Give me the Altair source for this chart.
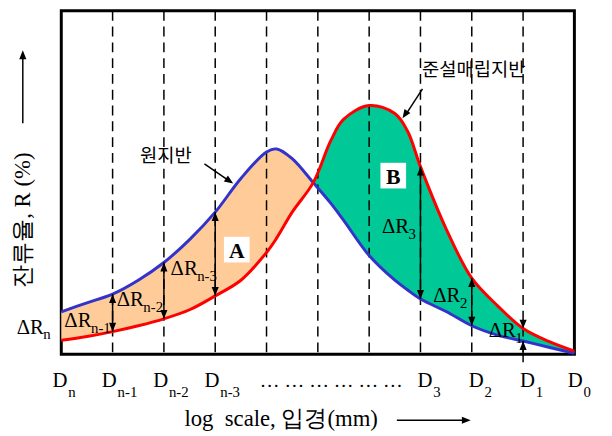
import altair as alt
import pandas as pd

# ---- data (x = position index along log-scale size axis: 0 = D_n ... 10 = D_0; y = retained R) ----
x_pos = [0, 0.5, 1, 1.5, 2, 2.5, 3, 3.5, 4, 4.2, 4.5, 4.91, 5.25, 5.5, 6, 6.5, 6.75, 7, 7.5, 8, 8.5, 9, 9.5, 10]
r_original = [12.2, 14.8, 17.3, 21.3, 26.4, 33.0, 40.9, 50.6, 58.2, 59.1, 56.3, 49.4, 43.5, 38.6,
              28.4, 21.3, 18.5, 15.9, 12.3, 8.2, 5.5, 3.8, 2.0, 0.3]
r_dredged = [4.0, 5.1, 6.5, 8.2, 10.2, 12.8, 16.8, 21.3, 29.3, 33.5, 40.9, 49.4, 61.4, 67.6,
             71.6, 69.3, 64.2, 54.0, 36.1, 21.9, 14.0, 7.4, 3.7, 0.9]
cross_x = 4.91

grid_x = [1, 2, 3, 4, 5, 6, 7, 8, 9]
arrow_x = [1, 2, 3, 7, 8]

d_sub = ["n", "n-1", "n-2", "n-3", "3", "2", "1", "0"]
d_x = [-0.17, 0.79, 1.79, 2.79, 6.94, 7.94, 8.94, 9.87]

dr_sub = ["n", "n-1", "n-2", "n-3", "3", "2", "1"]
dr_x = [-0.87, 0.06, 1.08, 2.13, 6.25, 7.25, 8.33]
dr_y = [7.67, 9.66, 15.63, 24.43, 36.65, 16.76, 6.53]

Y_TOP = 98.86
SERIF = "'Liberation Serif', 'Times New Roman', Times, 'DejaVu Serif', serif"
KR = "Noto Sans CJK KR"
HEAD = "M0,0L-0.4,1L0.4,1Z"
INTERP = "catmull-rom"

xs = alt.Scale(domain=[0, 10], nice=False, zero=False)
ys = alt.Scale(domain=[0, Y_TOP], nice=False, zero=False)

def X(f):
    return alt.X(f, type="quantitative", scale=xs, axis=None)

def Y(f):
    return alt.Y(f, type="quantitative", scale=ys, axis=None)

curves = pd.DataFrame({"x": x_pos, "orig": r_original, "dred": r_dredged})
orange = curves[curves.x <= cross_x]
green = curves[curves.x >= cross_x]

area_a = alt.Chart(orange).mark_area(color="#FFCC99", opacity=1, interpolate=INTERP).encode(
    x=X("x"), y=Y("orig"), y2="dred")
area_b = alt.Chart(green).mark_area(color="#00C896", opacity=1, interpolate=INTERP).encode(
    x=X("x"), y=Y("dred"), y2="orig")

grid = alt.Chart(pd.DataFrame({"x": grid_x, "top": [Y_TOP] * len(grid_x), "bot": [0] * len(grid_x)})).mark_rule(
    color="black", strokeWidth=1.5, strokeDash=[10, 6]).encode(x=X("x"), y=Y("top"), y2="bot")

line_o = alt.Chart(curves).mark_line(color="#3333CC", strokeWidth=3, interpolate=INTERP).encode(
    x=X("x"), y=Y("orig"))
line_d = alt.Chart(curves).mark_line(color="#FF0000", strokeWidth=3, interpolate=INTERP).encode(
    x=X("x"), y=Y("dred"))

# double arrows between the two curves
rows = []
heads = []
for ax in arrow_x:
    k = x_pos.index(ax)
    a, b = r_original[k], r_dredged[k]
    top, bot = max(a, b), min(a, b)
    rows.append({"x": ax, "x2": ax, "y": top, "y2": bot})
    heads.append({"x": ax, "y": top, "ang": 0})
    heads.append({"x": ax, "y": bot, "ang": 180})
k9 = x_pos.index(9)
rows.append({"x": 9, "x2": 9, "y": r_original[k9], "y2": -2.3})
heads.append({"x": 9, "y": r_dredged[k9], "ang": 180})
heads.append({"x": 9, "y": r_original[k9], "ang": 0})
# axis-title arrows and callout arrows
rows.append({"x": -0.75, "x2": -0.75, "y": 66.5, "y2": 86.0})
heads.append({"x": -0.75, "y": 87.5, "ang": 0})
rows.append({"x": 6.54, "x2": 7.9, "y": -19.0, "y2": -19.0})
heads.append({"x": 7.98, "y": -19.0, "ang": 90})
rows.append({"x": 2.79, "x2": 3.3, "y": 54.83, "y2": 49.6})
heads.append({"x": 3.35, "y": 49.15, "ang": 124.6})
rows.append({"x": 7.04, "x2": 6.7, "y": 76.42, "y2": 68.7})
heads.append({"x": 6.65, "y": 67.9, "ang": 213.7})

arrow_lines = alt.Chart(pd.DataFrame(rows)).mark_rule(color="black", strokeWidth=1.5).encode(
    x=X("x"), x2="x2", y=Y("y"), y2="y2")
arrow_heads = alt.Chart(pd.DataFrame(heads)).mark_point(
    shape=HEAD, filled=True, size=324, color="black", opacity=1).encode(
    x=X("x"), y=Y("y"), angle=alt.Angle("ang:Q", scale=None))

# region boxes
boxes = pd.DataFrame({"x": [3.42, 6.47], "y": [30.11, 51.42], "t": ["A", "B"]})
box_bg = alt.Chart(boxes).mark_square(size=676, color="white", opacity=1).encode(x=X("x"), y=Y("y"))
box_tx = alt.Chart(boxes).mark_text(font=SERIF, fontSize=22, fontWeight="bold", color="black",
                                    baseline="middle", align="center", dy=1).encode(
    x=X("x"), y=Y("y"), text="t:N")

# D labels
dlab = pd.DataFrame({"x": d_x, "y": [-7.8] * len(d_x), "m": ["D"] * len(d_x), "s": d_sub})
d_main = alt.Chart(dlab).mark_text(font=SERIF, fontSize=21, align="left", baseline="middle",
                                   color="black").encode(x=X("x"), y=Y("y"), text="m:N")
d_subt = alt.Chart(dlab).mark_text(font=SERIF, fontSize=15, align="left", baseline="middle",
                                   dx=16, dy=11, color="black").encode(x=X("x"), y=Y("y"), text="s:N")

# Delta R labels
rlab = pd.DataFrame({"x": dr_x, "y": dr_y, "m": ["ΔR"] * len(dr_x), "s": dr_sub})
r_main = alt.Chart(rlab).mark_text(font=SERIF, fontSize=21, align="left", baseline="middle",
                                   color="black").encode(x=X("x"), y=Y("y"), text="m:N")
r_subt = alt.Chart(rlab).mark_text(font=SERIF, fontSize=15, align="left", baseline="middle",
                                   dx=27, dy=7, color="black").encode(x=X("x"), y=Y("y"), text="s:N")

# other texts
dots = pd.DataFrame({"x": [3.87], "y": [-7.8], "t": ["… … … … … …"]})
dots_tx = alt.Chart(dots).mark_text(font=SERIF, fontSize=20, align="left", baseline="middle",
                                    color="black").encode(x=X("x"), y=Y("y"), text="t:N")
xtitle = pd.DataFrame({"x": [2.40], "y": [-18.7], "t": ["log\u00a0\u00a0scale, 입경(mm)"]})
xtitle_tx = alt.Chart(xtitle).mark_text(font=SERIF, fontSize=23, align="left", baseline="middle",
                                        color="black").encode(x=X("x"), y=Y("y"), text="t:N")

kr = pd.DataFrame({"x": [2.04, 8.04], "y": [57.1, 81.82], "t": ["원지반", "준설매립지반"]})
kr_tx = alt.Chart(kr).mark_text(font=KR, fontSize=19, align="center", baseline="middle",
                                color="black").encode(x=X("x"), y=Y("y"), text="t:N")

ytitle = pd.DataFrame({"x": [-0.75], "y": [38.6], "t": ["잔류율, R (%)"]})
ytitle_tx = alt.Chart(ytitle).mark_text(font=SERIF, fontSize=23, angle=270, align="center",
                                        baseline="middle", color="black").encode(
    x=X("x"), y=Y("y"), text="t:N")

chart = alt.layer(
    area_a, area_b, grid, line_o, line_d, arrow_lines, arrow_heads,
    box_bg, box_tx, d_main, d_subt, r_main, r_subt, dots_tx, xtitle_tx, kr_tx, ytitle_tx
).properties(
    width=520, height=348,
    autosize=alt.AutoSizeParams(type="none"),
    padding={"left": 54, "top": 0, "right": 30, "bottom": 80},
    background="white",
).configure_view(stroke="black", strokeWidth=3)

chart.save("out.html", embed_options={"renderer": "svg", "actions": False})
